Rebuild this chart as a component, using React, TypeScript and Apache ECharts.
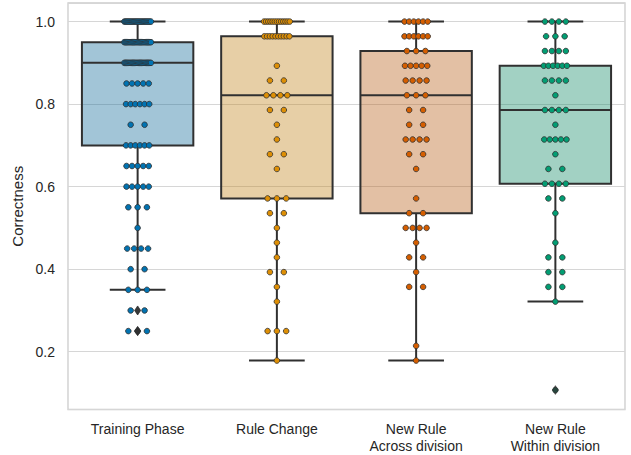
import React, { useEffect, useRef } from "react";
import * as echarts from "echarts";

const categories = ["Training Phase", "Rule Change", "New Rule\nAcross division", "New Rule\nWithin division"];

const trainingLevels = [0.25, 0.3, 0.35, 0.4, 0.45, 0.5, 0.55, 0.6, 0.65, 0.7, 0.75, 0.8, 0.85, 0.9, 0.95, 1.0];
const trainingCounts = [3, 2, 3, 2, 4, 1, 3, 5, 5, 6, 2, 6, 5, 24, 24, 25];

const ruleChangeLevels = [0.1786, 0.25, 0.3214, 0.3571, 0.3929, 0.4286, 0.4643, 0.5, 0.5357, 0.5714, 0.6429, 0.6786, 0.7143, 0.75, 0.7857, 0.8214, 0.8571, 0.8929, 0.9643, 1.0];
const ruleChangeCounts = [1, 3, 1, 1, 2, 1, 1, 1, 2, 3, 1, 2, 1, 1, 2, 4, 2, 1, 10, 13];

const acrossLevels = [0.1786, 0.2143, 0.3571, 0.3929, 0.4286, 0.4643, 0.5, 0.5357, 0.5714, 0.6429, 0.6786, 0.7143, 0.75, 0.7857, 0.8214, 0.8571, 0.8929, 0.9286, 0.9643, 1.0];
const acrossCounts = [1, 1, 2, 1, 2, 1, 4, 2, 1, 1, 2, 4, 2, 2, 3, 4, 5, 3, 6, 6];

const withinLevels = [0.1071, 0.3214, 0.3571, 0.3929, 0.4286, 0.4643, 0.5357, 0.5714, 0.6071, 0.6429, 0.6786, 0.7143, 0.75, 0.7857, 0.8214, 0.8571, 0.8929, 0.9286, 0.9643, 1.0];
const withinCounts = [1, 1, 2, 2, 2, 1, 1, 2, 4, 2, 1, 5, 1, 4, 1, 4, 6, 4, 3, 4];

const yTickValues = [0.2, 0.4, 0.6, 0.8, 1.0];

const pointColors = ["#0173b2", "#de8f05", "#d55e00", "#029e73"];
const boxFills = [
  "rgba(23,109,156,0.4)",
  "rgba(195,136,32,0.4)",
  "rgba(186,97,27,0.4)",
  "rgba(22,139,106,0.4)",
];
const LINE = "#303030";
const FONT = "'Liberation Sans', Arial, sans-serif";

function expand(levels: number[], counts: number[]): number[] {
  const out: number[] = [];
  levels.forEach((v, i) => {
    for (let k = 0; k < counts[i]; k++) out.push(v);
  });
  return out;
}

function quantile(sorted: number[], q: number): number {
  const pos = (sorted.length - 1) * q;
  const lo = Math.floor(pos);
  const frac = pos - lo;
  if (lo + 1 >= sorted.length) return sorted[lo];
  return sorted[lo] + (sorted[lo + 1] - sorted[lo]) * frac;
}

function boxStats(values: number[]) {
  const s = [...values].sort((a, b) => a - b);
  const q1 = quantile(s, 0.25);
  const med = quantile(s, 0.5);
  const q3 = quantile(s, 0.75);
  const iqr = q3 - q1;
  const inside = s.filter((v) => v >= q1 - 1.5 * iqr && v <= q3 + 1.5 * iqr);
  const lo = Math.min(...inside);
  const hi = Math.max(...inside);
  const fliers = s.filter((v) => v < lo || v > hi);
  return { q1, med, q3, lo, hi, fliers };
}

const groups = [
  { levels: trainingLevels, counts: trainingCounts },
  { levels: ruleChangeLevels, counts: ruleChangeCounts },
  { levels: acrossLevels, counts: acrossCounts },
  { levels: withinLevels, counts: withinCounts },
];

export default function App() {
  const ref = useRef<HTMLDivElement>(null);
  useEffect(() => {
    if (!ref.current) return;
    const chart = echarts.init(ref.current, undefined, { renderer: "svg" });

    const JITTER = 0.1;
    const boxData: number[][] = [];
    const flierData: number[][] = [];
    const stripSeries: any[] = [];
    groups.forEach((g, ci) => {
      const vals = expand(g.levels, g.counts);
      const st = boxStats(vals);
      boxData.push([ci, st.lo, st.q1, st.med, st.q3, st.hi]);
      st.fliers.forEach((f) => flierData.push([ci, f]));
      const pts: number[][] = [];
      g.levels.forEach((v, i) => {
        const n = g.counts[i];
        for (let k = 0; k < n; k++) {
          const off = n === 1 ? 0 : JITTER * ((2 * (k + 0.5)) / n - 1);
          pts.push([ci + off, v]);
        }
      });
      stripSeries.push({
        type: "scatter",
        xAxisIndex: 1,
        yAxisIndex: 0,
        data: pts,
        symbol: "circle",
        symbolSize: 5.6,
        z: 5,
        itemStyle: { color: pointColors[ci], borderColor: LINE, borderWidth: 0.8, opacity: 1 },
        emphasis: { disabled: true },
      });
    });

    const option: any = {
      animation: false,
      backgroundColor: "#ffffff",
      grid: {
        left: 68,
        right: 6,
        top: 3,
        bottom: 45.5,
        show: true,
        borderColor: "#cccccc",
        borderWidth: 1.3,
        backgroundColor: "transparent",
      },
      xAxis: [
        {
          type: "category",
          data: categories,
          boundaryGap: true,
          axisLine: { show: false },
          axisTick: { show: false },
          splitLine: { show: false },
          axisLabel: {
            fontSize: 14,
            color: "#262626",
            fontFamily: FONT,
            margin: 11,
            lineHeight: 17,
            interval: 0,
          },
        },
        {
          type: "value",
          min: -0.5,
          max: 3.5,
          show: false,
        },
      ],
      yAxis: {
        type: "value",
        min: 0.06,
        max: 1.045,
        minInterval: 0.2,
        maxInterval: 0.2,
        splitNumber: 5,
        name: "Correctness",
        nameLocation: "middle",
        nameGap: 42,
        nameTextStyle: { fontSize: 15, color: "#262626", fontFamily: FONT },
        axisLine: { show: false },
        axisTick: { show: false },
        splitLine: { show: true, lineStyle: { color: "#d6d6d6", width: 1 } },
        axisLabel: {
          fontSize: 14,
          color: "#262626",
          fontFamily: FONT,
          margin: 13,
          showMinLabel: false,
          showMaxLabel: false,
          formatter: (v: number) =>
            yTickValues.some((t) => Math.abs(t - v) < 1e-6) ? v.toFixed(1) : "",
        },
      },
      series: [
        {
          type: "custom",
          xAxisIndex: 1,
          yAxisIndex: 0,
          z: 2,
          data: boxData,
          encode: { x: 0, y: [1, 2, 3, 4, 5] },
          renderItem: (params: any, api: any) => {
            const x = api.value(0);
            const lo = api.value(1);
            const q1 = api.value(2);
            const med = api.value(3);
            const q3 = api.value(4);
            const hi = api.value(5);
            const tl = api.coord([x - 0.4, q3]);
            const br = api.coord([x + 0.4, q1]);
            const c = api.coord([x, med]);
            const pLo = api.coord([x, lo]);
            const pHi = api.coord([x, hi]);
            const capL = api.coord([x - 0.2, lo]);
            const capR = api.coord([x + 0.2, lo]);
            const lineStyle = { stroke: LINE, lineWidth: 2, fill: "none" };
            return {
              type: "group",
              children: [
                {
                  type: "line",
                  shape: { x1: pHi[0], y1: pHi[1], x2: pHi[0], y2: tl[1] },
                  style: lineStyle,
                },
                {
                  type: "line",
                  shape: { x1: pLo[0], y1: br[1], x2: pLo[0], y2: pLo[1] },
                  style: lineStyle,
                },
                {
                  type: "line",
                  shape: { x1: capL[0], y1: pHi[1], x2: capR[0], y2: pHi[1] },
                  style: lineStyle,
                },
                {
                  type: "line",
                  shape: { x1: capL[0], y1: pLo[1], x2: capR[0], y2: pLo[1] },
                  style: lineStyle,
                },
                {
                  type: "rect",
                  shape: { x: tl[0], y: tl[1], width: br[0] - tl[0], height: br[1] - tl[1] },
                  style: { fill: boxFills[x], stroke: LINE, lineWidth: 2 },
                },
                {
                  type: "line",
                  shape: { x1: tl[0], y1: c[1], x2: br[0], y2: c[1] },
                  style: lineStyle,
                },
              ],
            };
          },
        },
        ...stripSeries,
        {
          type: "scatter",
          xAxisIndex: 1,
          yAxisIndex: 0,
          data: flierData,
          symbol: "diamond",
          symbolSize: [6, 9],
          z: 6,
          itemStyle: { color: LINE, borderColor: LINE, borderWidth: 0.5 },
          emphasis: { disabled: true },
        },
      ],
    };
    chart.setOption(option);
    return () => chart.dispose();
  }, []);

  return (
    <div
      ref={ref}
      style={{ position: "fixed", left: 0, top: 0, width: 631, height: 455, background: "#fff" }}
    />
  );
}
